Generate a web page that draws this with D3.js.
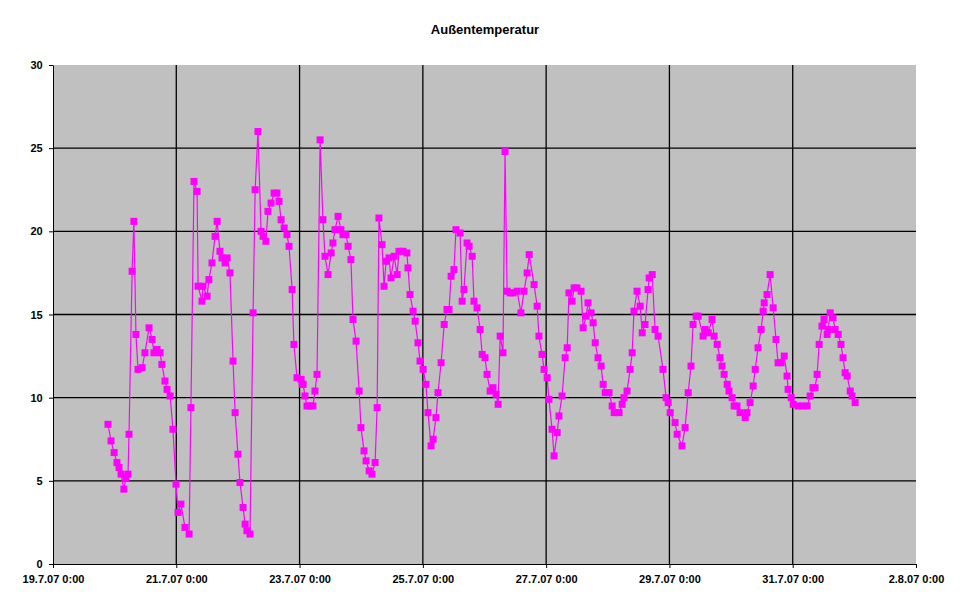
<!DOCTYPE html>
<html><head><meta charset="utf-8">
<script src="https://cdn.jsdelivr.net/npm/d3@7"></script>
<style>body{margin:0;background:#fff}text{font-family:Arial,"Liberation Sans",sans-serif}</style>
</head><body><svg id="c" width="970" height="604"></svg>
<script>
const title = "Außentemperatur";
const startDate = new Date(2007,6,19,0,0);
const endDate = new Date(2007,7,2,0,0);
const xTickLabels = ["19.7.07 0:00","21.7.07 0:00","23.7.07 0:00","25.7.07 0:00","27.7.07 0:00","29.7.07 0:00","31.7.07 0:00","2.8.07 0:00"];
const xTickDays = [0,2,4,6,8,10,12,14];
const yTicks = [0,5,10,15,20,25,30];
// hours since 19.7.07 0:00
const hours = [21.4,22.6,23.8,24.9,25.7,26.5,27.6,28.4,29.2,29.6,30.8,31.5,32.3,33.1,34.7,35.8,37.4,38.6,39.3,40.5,41.7,42.4,43.6,44.4,45.6,46.7,47.9,48.7,49.8,51.4,53.0,53.7,54.9,56.1,56.5,58.0,58.4,60.0,60.7,61.9,63.1,63.9,65.0,65.8,67.0,67.8,68.9,70.1,70.9,72.0,72.8,74.0,74.8,75.5,76.7,77.9,78.7,79.8,81.0,81.8,82.9,83.7,84.9,86.1,87.2,88.0,88.8,90.0,91.1,91.9,93.1,93.8,95.0,96.6,97.0,97.4,98.1,98.9,100.0,101.2,102.0,102.8,104.0,105.1,105.9,107.1,108.3,109.0,109.8,111.0,112.1,112.9,114.1,114.9,116.0,116.8,118.0,119.2,119.9,121.1,121.9,123.1,124.2,125.4,126.2,126.9,128.1,128.9,129.7,130.8,131.6,132.8,134.0,134.7,136.3,137.8,138.2,139.0,140.2,141.0,142.1,142.9,144.1,145.2,146.0,147.2,148.0,149.1,149.9,151.1,152.3,153.4,154.2,155.0,156.1,156.9,158.5,159.3,160.0,161.2,162.0,163.2,163.9,165.1,166.3,167.1,168.2,169.0,170.2,171.3,172.5,173.3,174.1,175.2,176.0,176.8,178.0,179.1,180.7,182.2,183.4,184.6,185.4,187.3,188.5,189.2,190.4,191.2,192.4,193.1,194.3,195.1,196.3,197.0,198.2,199.4,200.2,200.9,202.1,202.9,204.0,205.6,206.4,207.6,208.3,209.5,210.3,211.1,212.2,213.4,214.2,215.0,216.5,217.7,218.5,220.4,221.6,222.3,223.5,224.7,225.5,226.2,227.4,228.6,229.4,230.5,231.7,232.1,233.3,234.4,235.6,237.5,238.7,239.5,240.3,242.2,243.0,244.9,246.1,247.3,248.4,249.2,250.4,251.2,253.1,253.9,255.1,256.6,257.4,258.6,259.7,260.5,261.3,262.5,263.2,264.4,265.2,266.3,267.5,269.5,270.2,271.4,272.6,273.4,274.5,275.7,276.5,276.9,278.0,279.2,280.4,281.5,282.3,283.5,284.7,285.8,286.2,287.4,288.2,290.1,291.7,293.6,294.8,295.9,296.7,297.5,298.3,299.4,300.2,301.4,301.8,302.6,303.7,304.5,305.7,306.8,307.6,308.4,309.2,310.4,311.1,312.3];
const temps = [8.4,7.4,6.7,6.1,5.8,5.4,4.5,5.2,5.4,7.8,17.6,20.6,13.8,11.7,11.8,12.7,14.2,13.5,12.7,12.9,12.7,12.0,11.0,10.5,10.1,8.1,4.8,3.1,3.6,2.2,1.8,9.4,23.0,22.4,16.7,15.8,16.7,16.1,17.1,18.1,19.7,20.6,18.8,18.4,18.1,18.4,17.5,12.2,9.1,6.6,4.9,3.4,2.4,2.0,1.8,15.1,22.5,26.0,20.0,19.7,19.4,21.2,21.7,22.3,22.3,21.8,20.7,20.2,19.8,19.1,16.5,13.2,11.2,11.1,10.8,10.8,10.1,9.5,9.5,9.5,10.4,11.4,25.5,20.7,18.5,17.4,18.7,19.3,20.1,20.9,20.1,19.8,19.8,19.1,18.3,14.7,13.4,10.4,8.2,6.8,6.2,5.6,5.4,6.1,9.4,20.8,19.2,16.7,18.2,18.4,17.2,18.5,17.4,18.8,18.8,18.7,17.8,16.2,15.2,14.6,13.3,12.2,11.7,10.8,9.1,7.1,7.5,8.8,10.3,12.1,14.4,15.3,15.3,17.3,17.7,20.1,19.9,15.8,16.5,19.3,19.1,18.5,15.8,15.4,14.1,12.6,12.4,11.4,10.4,10.6,10.2,9.6,13.7,12.7,24.8,16.4,16.3,16.3,16.4,15.1,16.4,17.5,18.6,16.8,15.5,13.7,12.6,11.7,11.2,9.9,8.1,6.5,7.9,8.9,10.1,12.4,13.0,16.3,15.8,16.6,16.6,16.4,14.2,14.9,15.7,15.1,14.5,13.3,12.4,11.9,10.8,10.3,10.3,9.5,9.1,9.1,9.6,10.0,10.4,11.7,12.7,15.2,16.4,15.5,13.9,14.4,16.5,17.2,17.4,14.1,13.7,11.7,10.0,9.7,9.1,8.5,7.8,7.1,8.2,10.3,11.9,14.4,14.9,14.9,13.7,14.1,13.9,14.7,13.7,13.2,12.4,11.9,11.4,10.8,10.4,10.0,9.5,9.5,9.1,8.8,9.1,9.7,10.7,11.7,13.0,14.1,15.2,15.7,16.2,17.4,15.4,13.5,12.1,12.1,12.5,11.3,10.5,10.0,9.6,9.5,9.5,9.5,10.1,10.6,10.6,11.4,13.2,14.3,14.7,13.8,14.1,15.1,14.8,14.1,13.8,13.2,12.4,11.5,11.3,10.4,10.1,9.7];

const svg = d3.select("#c");
const L=53,R=916,T=65,B=564;
const x = d3.scaleTime().domain([startDate,endDate]).range([L,R]);
const y = d3.scaleLinear().domain([0,30]).range([B,T]);
const toDate = h => new Date(startDate.getTime()+h*3600000);
const dayDate = d => new Date(startDate.getTime()+d*86400000);

svg.append("rect").attr("x",L).attr("y",T).attr("width",R-L).attr("height",B-T).attr("fill","#C0C0C0");
svg.append("g").selectAll("line").data(yTicks.filter(v=>v>0&&v<30)).join("line")
  .attr("x1",L).attr("x2",R).attr("y1",d=>y(d)).attr("y2",d=>y(d)).attr("stroke","#000").attr("stroke-width",1.3);
svg.append("g").selectAll("line").data(xTickDays.filter(d=>d>0&&d<14)).join("line")
  .attr("x1",d=>x(dayDate(d))).attr("x2",d=>x(dayDate(d))).attr("y1",T).attr("y2",B).attr("stroke","#000").attr("stroke-width",1.3);

const xa = svg.append("g").attr("transform",`translate(0,${B})`)
  .call(d3.axisBottom(x).tickValues(xTickDays.map(dayDate)).tickFormat((d,i)=>xTickLabels[i]).tickSize(4).tickSizeOuter(0));
const ya = svg.append("g").attr("transform",`translate(${L},0)`)
  .call(d3.axisLeft(y).tickValues(yTicks).tickSize(4).tickSizeOuter(0));
[xa,ya].forEach(a=>{a.select(".domain").attr("stroke","#000");a.selectAll("line").attr("stroke","#000");
  a.selectAll("text").attr("font-size",11).attr("font-weight","bold").attr("fill","#000").attr("font-family","Arial, 'Liberation Sans', sans-serif");});
xa.selectAll("text").attr("dy","1.1em");
ya.selectAll("text").attr("dx","-0.3em");

const pts = hours.map((h,i)=>({t:toDate(h),v:temps[i]}));
svg.append("path").datum(pts).attr("fill","none").attr("stroke","#FF00FF").attr("stroke-width",1.2)
  .attr("d",d3.line().x(d=>x(d.t)).y(d=>y(d.v)));
svg.append("g").selectAll("rect").data(pts).join("rect")
  .attr("x",d=>x(d.t)-3.5).attr("y",d=>y(d.v)-3.5).attr("width",7).attr("height",7).attr("fill","#FF00FF");

svg.append("text").attr("x",485).attr("y",34).attr("text-anchor","middle").attr("font-size",13).attr("font-weight","bold").text(title);
</script></body></html>
